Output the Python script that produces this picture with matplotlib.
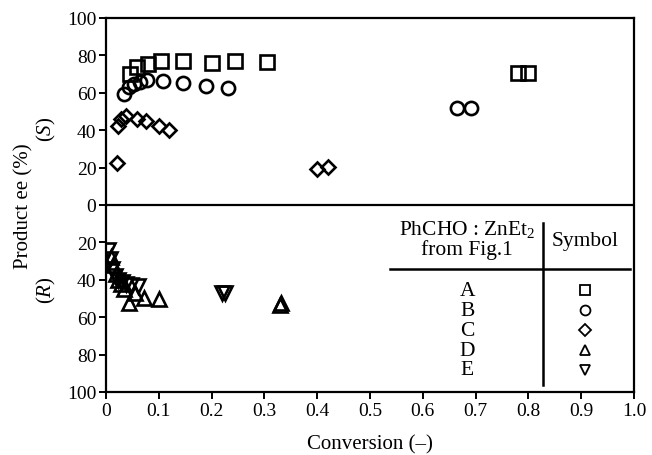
import matplotlib.pyplot as plt
import matplotlib.transforms as mtransforms

plt.rcParams['font.family'] = ['Liberation Serif', 'DejaVu Serif']
plt.rcParams['mathtext.fontset'] = 'custom'
plt.rcParams['mathtext.rm'] = 'Liberation Serif'
plt.rcParams['mathtext.it'] = 'Liberation Serif:italic'

# (S) side: positive ee, (R) side: stored as positive ee, drawn below zero
A_conv = [0.045, 0.058, 0.08, 0.105, 0.145, 0.20, 0.245, 0.305, 0.78, 0.80]
A_ee = [70, 74, 75.5, 77, 77, 76, 77, 76.5, 70.5, 70.5]

B_conv = [0.034, 0.043, 0.053, 0.064, 0.077, 0.108, 0.146, 0.19, 0.232, 0.665, 0.692]
B_ee = [59.5, 63, 64.5, 66, 67, 66.5, 65, 63.5, 62.5, 52, 52]

C_conv = [0.02, 0.022, 0.028, 0.038, 0.058, 0.076, 0.10, 0.12, 0.40, 0.42]
C_ee = [22.5, 42, 46, 47.5, 46, 45, 42, 40, 19.5, 20.5]

# (R) series
D_conv = [0.010, 0.013, 0.018, 0.022, 0.028, 0.035, 0.043, 0.055, 0.072, 0.10, 0.33, 0.332]
D_ee = [28, 32, 37, 40, 42, 45, 52.5, 47, 49.5, 50.5, 53.5, 52.5]

E_conv = [0.004, 0.008, 0.012, 0.017, 0.022, 0.030, 0.038, 0.048, 0.061, 0.22, 0.225]
E_ee = [24, 29, 34, 38, 40, 41, 42, 43, 43.5, 47, 47]

series = [
    ('A', A_conv, A_ee, 's', 1),
    ('B', B_conv, B_ee, 'o', 1),
    ('C', C_conv, C_ee, 'D', 1),
    ('D', D_conv, D_ee, '^', -1),
    ('E', E_conv, E_ee, 'v', -1),
]
sizes = {'s': 10.5, 'o': 9.5, 'D': 7.5, '^': 9.5, 'v': 9.5}

y_ticks = [100, 80, 60, 40, 20, 0, -20, -40, -60, -80, -100]
x_ticks = [0, 0.1, 0.2, 0.3, 0.4, 0.5, 0.6, 0.7, 0.8, 0.9, 1.0]
x_labels = ['0', '0.1', '0.2', '0.3', '0.4', '0.5', '0.6', '0.7', '0.8', '0.9', '1.0']

fig = plt.figure(figsize=(6.52, 4.56), dpi=100)
ax = fig.add_axes([106 / 652, 1 - 393 / 456, 528 / 652, 374 / 456])

for name, xs, ys, mk, sign in series:
    ax.plot(xs, [sign * v for v in ys], linestyle='none', marker=mk,
            markersize=sizes[mk], mfc='none', mec='black', mew=1.9)

ax.axhline(0, color='black', lw=1.6)

ax.set_xlim(0, 1.0)
ax.set_ylim(-100, 100)
ax.set_xticks(x_ticks)
ax.set_xticklabels(x_labels)
ax.set_yticks(y_ticks)
ax.set_yticklabels([str(abs(v)) for v in y_ticks])
ax.tick_params(direction='out', length=5, width=1.4, labelsize=14, pad=2)
for sp in ax.spines.values():
    sp.set_linewidth(1.6)

ax.set_xlabel('Conversion (–)', fontsize=15, labelpad=11)
ax.set_ylabel('Product ee (%)', fontsize=15, labelpad=24)

trans = mtransforms.blended_transform_factory(ax.transAxes, ax.transData)
ax.text(-0.112, 41, '($S$)', transform=trans, rotation=90, fontsize=15,
        ha='center', va='center')
ax.text(-0.112, -45, '($R$)', transform=trans, rotation=90, fontsize=15,
        ha='center', va='center')

# table-like legend
ax.text(0.684, 0.437, 'PhCHO : ZnEt$_2$', transform=ax.transAxes, fontsize=15.5,
        ha='center', va='center')
ax.text(0.684, 0.383, 'from Fig.1', transform=ax.transAxes, fontsize=15.5,
        ha='center', va='center')
ax.text(0.908, 0.405, 'Symbol', transform=ax.transAxes, fontsize=15.5,
        ha='center', va='center')
ax.plot([0.538, 0.992], [0.33, 0.33], transform=ax.transAxes, color='black', lw=1.8)
ax.plot([0.828, 0.828], [0.452, 0.02], transform=ax.transAxes, color='black', lw=1.8)
row_y = [0.272, 0.219, 0.165, 0.112, 0.059]
for (name, xs, ys, mk, sign), ry in zip(series, row_y):
    ax.text(0.684, ry, name, transform=ax.transAxes, fontsize=15.5,
            ha='center', va='center')
    ax.plot([0.908], [ry], transform=ax.transAxes, marker=mk,
            markersize=sizes[mk] * 0.75, mfc='none', mec='black', mew=1.3,
            linestyle='none')

fig.savefig('out.png', dpi=100)
